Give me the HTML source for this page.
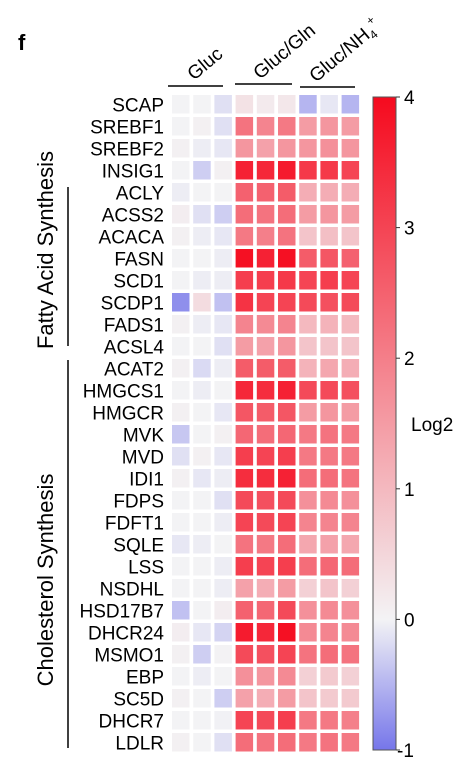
<!DOCTYPE html>
<html><head><meta charset="utf-8"><style>
html,body{margin:0;padding:0;background:#fff;}
svg{display:block;font-family:"Liberation Sans",Arial,sans-serif;}
</style></head><body>
<svg id="chart" width="470" height="768" viewBox="0 0 470 768">
<text x="18" y="50" font-size="22" font-weight="bold">f</text>
<g id="header">
<line x1="168" y1="86" x2="223" y2="86" stroke="#000" stroke-width="1.5"/>
<line x1="235" y1="84" x2="292" y2="84" stroke="#000" stroke-width="1.5"/>
<line x1="300" y1="87" x2="355" y2="87" stroke="#000" stroke-width="1.5"/>
<text transform="translate(194,81) rotate(-40)" font-size="19">Gluc</text>
<text transform="translate(260,80) rotate(-40)" font-size="19">Gluc/Gln</text>
<text transform="translate(316,83) rotate(-40)" font-size="19">Gluc/NH<tspan font-size="12" dy="4">4</tspan><tspan font-size="12" dy="-13">+</tspan></text>
</g>
<g>
<line x1="68" y1="187" x2="68" y2="346" stroke="#000" stroke-width="1.5"/>
<line x1="68" y1="360" x2="68" y2="748" stroke="#000" stroke-width="1.5"/>
<text transform="translate(53,250) rotate(-90)" font-size="22" text-anchor="middle">Fatty Acid Synthesis</text>
<text transform="translate(53,580) rotate(-90)" font-size="22" text-anchor="middle">Cholesterol Synthesis</text>
</g>
<defs><linearGradient id="cbg" x1="0" y1="1" x2="0" y2="0">
<stop offset="0" stop-color="#7676ea"/><stop offset="0.2" stop-color="#f3f3f5"/><stop offset="1" stop-color="#f50a1e"/>
</linearGradient></defs>
<g id="cells"></g>
<g id="labels"></g>
<g id="cbar">
<rect x="373" y="97" width="23" height="653" fill="url(#cbg)" stroke="#555" stroke-width="1"/>
<text x="411" y="431" font-size="19">Log2</text>
</g>
</svg>
<script>
const genes=["SCAP","SREBF1","SREBF2","INSIG1","ACLY","ACSS2","ACACA","FASN","SCD1","SCDP1","FADS1","ACSL4","ACAT2","HMGCS1","HMGCR","MVK","MVD","IDI1","FDPS","FDFT1","SQLE","LSS","NSDHL","HSD17B7","DHCR24","MSMO1","EBP","SC5D","DHCR7","LDLR"];
const conditions=["Gluc-1","Gluc-2","Gluc-3","GlucGln-1","GlucGln-2","GlucGln-3","GlucNH4-1","GlucNH4-2","GlucNH4-3"];
const values=[
[0,0,-0.15,0.3,0.15,0.2,-0.5,-0.1,-0.5],
[0,0.05,-0.15,2.2,1.9,2.1,1.5,1.6,1.5],
[0.05,-0.05,-0.1,1.6,1.4,1.6,1.6,1.7,1.6],
[0,-0.3,0.05,3.6,3.5,3.7,3.2,3.2,3.0],
[-0.05,0,0,2.5,2.5,2.6,1.2,1.2,1.2],
[0.1,-0.15,-0.3,2.3,2.2,2.3,1.5,1.6,1.5],
[0.05,-0.05,-0.1,2.1,2.0,2.2,0.8,0.9,0.8],
[0,0,-0.05,3.9,3.6,3.9,2.6,2.7,2.5],
[0,-0.05,-0.05,3.1,3.1,3.2,3.0,3.1,3.0],
[-0.8,0.4,-0.4,3.3,3.0,3.0,2.9,2.8,2.9],
[0.05,-0.05,-0.1,1.9,1.8,1.9,1.0,1.1,1.0],
[0,0,-0.15,1.5,1.4,1.6,0.8,0.8,0.8],
[0.05,-0.2,-0.05,2.6,2.6,2.6,1.1,1.3,1.2],
[0,-0.05,0,3.5,3.4,3.6,2.9,2.9,2.8],
[0.05,0,-0.1,2.7,2.6,2.7,1.5,1.6,1.5],
[-0.35,0,0.05,2.4,2.3,2.4,2.1,2.2,2.1],
[-0.15,0.05,-0.1,3.1,3.0,3.1,2.1,2.1,2.1],
[0.05,-0.1,-0.05,3.4,3.4,3.6,2.3,2.3,2.2],
[0,0,-0.15,2.9,2.8,2.9,1.7,1.8,1.7],
[0,0,-0.05,3.0,2.9,3.0,1.9,1.9,1.9],
[-0.1,-0.05,0,2.2,2.1,2.3,1.3,1.4,1.3],
[0,0,-0.05,3.1,3.0,3.1,2.3,2.4,2.3],
[0,0,-0.05,1.4,1.2,1.5,0.6,0.8,0.6],
[-0.4,0,0.1,2.5,2.4,2.9,1.7,1.8,1.7],
[0.1,-0.1,-0.25,3.7,3.5,3.9,1.8,1.9,1.8],
[0.05,-0.3,0.02,2.9,2.8,3.0,2.2,2.3,2.2],
[0,-0.05,0,1.7,1.6,1.8,0.6,0.7,0.6],
[0.05,0,-0.3,1.4,1.2,1.5,0.8,0.7,0.7],
[0,0,-0.02,3.0,2.9,3.1,2.1,2.1,2.0],
[0.05,0,-0.15,2.3,2.2,2.3,2.1,2.2,2.1]];
const ticks=[-1,0,1,2,3,4];
const NS="http://www.w3.org/2000/svg";
const x0=172,pitchX=21.2,cw=17.5,y0=95,pitchY=22,ch=18.5;
const cbTop=97,cbBot=750,vmin=-1,vmax=4;
function xPos(i){return x0+i*pitchX;}
function yPos(j){return y0+j*pitchY;}
function cbY(v){return cbBot-(v-vmin)/(vmax-vmin)*(cbBot-cbTop);}
function lerp(a,b,t){return a.map((c,k)=>Math.round(c+(b[k]-c)*t));}
function color(v){
 const blue=[118,118,234],white=[243,243,245],red=[245,10,30];
 if(v<0){return "rgb("+lerp(white,blue,Math.min(1,-v)).join(",")+")";}
 return "rgb("+lerp(white,red,Math.min(1,v/4)).join(",")+")";
}
const cells=document.getElementById("cells"),labels=document.getElementById("labels"),cbar=document.getElementById("cbar");
genes.forEach((g,j)=>{
 const t=document.createElementNS(NS,"text");
 t.setAttribute("x",164);t.setAttribute("y",yPos(j)+ch/2+7);
 t.setAttribute("text-anchor","end");t.setAttribute("font-size","19");
 t.textContent=g;
 
 
 labels.appendChild(t);
 conditions.forEach((c,i)=>{
  const r=document.createElementNS(NS,"rect");
  r.setAttribute("x",xPos(i));r.setAttribute("y",yPos(j));
  r.setAttribute("width",cw);r.setAttribute("height",ch);
  r.setAttribute("fill",color(values[j][i]));
  
  
  cells.appendChild(r);
 });
});
ticks.forEach(v=>{
 const y=cbY(v);
 const l=document.createElementNS(NS,"line");
 l.setAttribute("x1",396);l.setAttribute("x2",400);l.setAttribute("y1",y);l.setAttribute("y2",y);
 l.setAttribute("stroke","#333");
 
 
 cbar.appendChild(l);
 const t=document.createElementNS(NS,"text");
 t.setAttribute("x",v<0?397:404);t.setAttribute("y",y+7);t.setAttribute("font-size","19");
 t.textContent=String(v);
 
 
 cbar.appendChild(t);
});
</script>
</body></html>
